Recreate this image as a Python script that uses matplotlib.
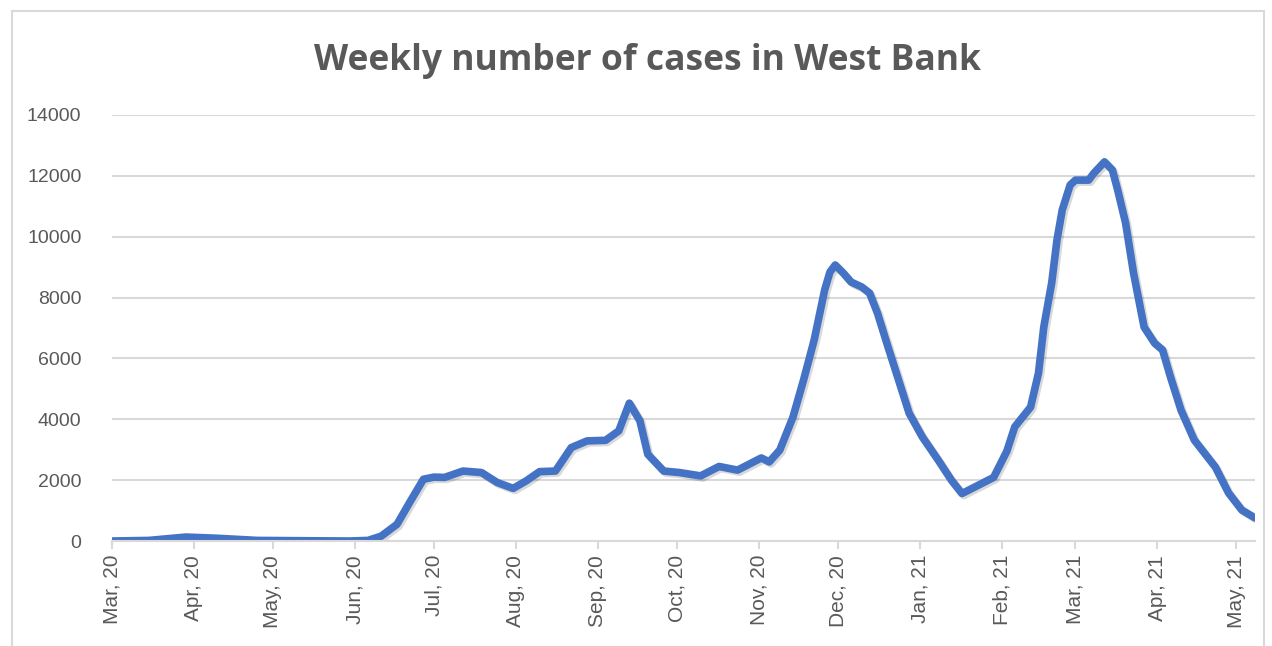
import numpy as np
import pandas as pd
import matplotlib
matplotlib.use('Agg')
import matplotlib.pyplot as plt
import matplotlib.dates as mdates
import matplotlib.patheffects as pe
from matplotlib.patches import Rectangle

# values
dates = ['2020-03-01', '2020-03-15', '2020-03-29', '2020-04-10', '2020-04-25', '2020-05-30',
         '2020-06-06', '2020-06-11', '2020-06-17', '2020-06-22', '2020-06-27', '2020-07-01',
         '2020-07-05', '2020-07-12', '2020-07-19', '2020-07-25', '2020-07-31', '2020-08-05',
         '2020-08-10', '2020-08-16', '2020-08-22', '2020-08-28', '2020-09-04', '2020-09-09',
         '2020-09-13', '2020-09-17', '2020-09-20', '2020-09-26', '2020-10-02', '2020-10-10',
         '2020-10-17', '2020-10-24', '2020-11-02', '2020-11-05', '2020-11-09', '2020-11-14',
         '2020-11-18', '2020-11-22', '2020-11-26', '2020-11-28', '2020-11-30', '2020-12-03',
         '2020-12-06', '2020-12-10', '2020-12-13', '2020-12-16', '2020-12-20', '2020-12-24',
         '2020-12-28', '2021-01-02', '2021-01-08', '2021-01-13', '2021-01-17', '2021-01-22',
         '2021-01-29', '2021-02-03', '2021-02-06', '2021-02-12', '2021-02-15', '2021-02-17',
         '2021-02-20', '2021-02-22', '2021-02-24', '2021-02-27', '2021-03-01', '2021-03-06',
         '2021-03-08', '2021-03-12', '2021-03-15', '2021-03-17', '2021-03-20', '2021-03-23',
         '2021-03-27', '2021-03-31', '2021-04-03', '2021-04-06', '2021-04-10', '2021-04-15',
         '2021-04-23', '2021-04-28', '2021-05-03', '2021-05-08']
cases = [0, 20, 130, 90, 20, 0,
         20, 160, 550, 1300, 2030, 2100,
         2090, 2300, 2250, 1920, 1730, 1980,
         2280, 2300, 3070, 3290, 3310, 3620,
         4530, 3950, 2850, 2300, 2250, 2140,
         2450, 2330, 2730, 2600, 2990, 4075,
         5290, 6600, 8250, 8840, 9070, 8810,
         8510, 8350, 8150, 7490, 6375, 5290,
         4200, 3420, 2660, 2000, 1560, 1780,
         2090, 2950, 3750, 4400, 5520, 7030,
         8480, 9890, 10880, 11700, 11860, 11860,
         12090, 12460, 12190, 11535, 10450, 8810,
         7030, 6500, 6280, 5390, 4300, 3320,
         2430, 1580, 1020, 760]
y_ticks = [0, 2000, 4000, 6000, 8000, 10000, 12000, 14000]
title = 'Weekly number of cases in West Bank'

x = pd.to_datetime(dates)
grid_col = '#D9D9D9'
text_col = '#595959'

fig = plt.figure(figsize=(12.72, 6.46), dpi=100)
ax = fig.add_axes([0.088, 0.1625, 0.8986, 0.6595])

ax.plot(x, cases, color='#4472C4', linewidth=5.5, solid_capstyle='round', solid_joinstyle='round',
        path_effects=[pe.SimpleLineShadow(offset=(1.5, -1.5), alpha=0.15, shadow_color='black'), pe.Normal()])

ax.set_ylim(0, 14000)
ax.set_yticks(y_ticks)
ax.set_xlim(x[0], x[-1])
ax.yaxis.grid(True, color=grid_col, linewidth=1.5)
ax.set_axisbelow(True)
ax.xaxis.set_major_locator(mdates.MonthLocator())
ax.xaxis.set_major_formatter(mdates.DateFormatter('%b, %y'))

for s in ['top', 'right', 'left']:
    ax.spines[s].set_visible(False)
ax.spines['bottom'].set_color(grid_col)
ax.spines['bottom'].set_linewidth(1.5)
ax.tick_params(axis='y', length=0, pad=22, labelsize=14, labelcolor=text_col)
ax.tick_params(axis='x', length=6, width=1.5, color=grid_col, pad=4, labelsize=15,
               labelcolor=text_col, rotation=90)
for lab in ax.get_xticklabels() + ax.get_yticklabels():
    lab.set_fontfamily('Liberation Sans')

fig.text(0.509, 0.905, title, ha='center', va='center', fontsize=25.5, fontweight='bold',
         color=text_col, fontfamily='Open Sans')

# chart area border
fig.patches.append(Rectangle((12 / 1272, -0.05), 1252 / 1272, 1.05 - 11 / 646,
                             transform=fig.transFigure, fill=False, edgecolor=grid_col,
                             linewidth=1.5))

fig.savefig('out.png', dpi=100)
